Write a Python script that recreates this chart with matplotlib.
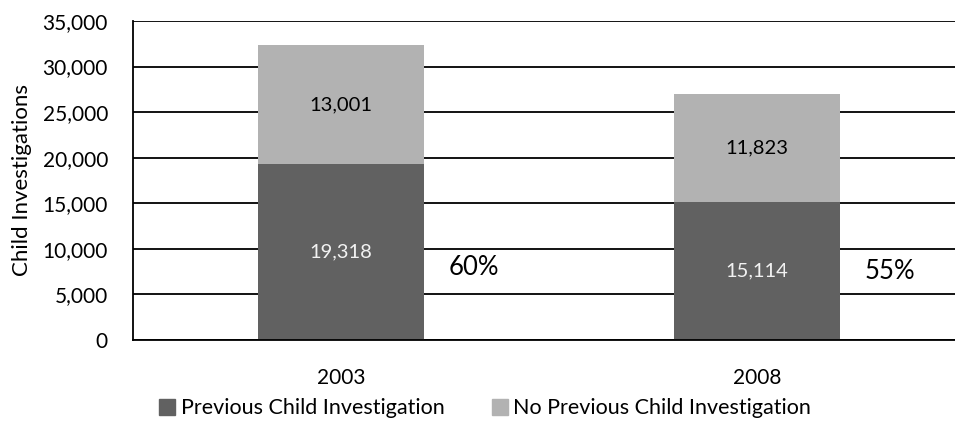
import matplotlib
matplotlib.use("Agg")
from matplotlib import pyplot as plt
from matplotlib.patches import Patch

years = ["2003", "2008"]
previous = [19318, 15114]
no_previous = [13001, 11823]
share_labels = ["60%", "55%"]
series_names = ["Previous Child Investigation", "No Previous Child Investigation"]

dark = "#616161"
light = "#b2b2b2"

plt.rcParams["font.family"] = ["Lato", "DejaVu Sans"]

fig = plt.figure(figsize=(9.55, 4.38), dpi=100)
ax = fig.add_axes([133 / 955, 1 - 340 / 438, 1 - 133 / 955, (340 - 21) / 438])

x = list(range(len(years)))
width = 0.4
ax.bar(x, previous, width=width, color=dark, zorder=2)
ax.bar(x, no_previous, width=width, bottom=previous, color=light, zorder=2)

# percentage labels sit just right of each bar, a bit below the 10,000 line
share_y = [7900, 7500]
for i in x:
    ax.text(i, previous[i] / 2, f"{previous[i]:,}", ha="center", va="center",
            color="#f2f2f2", fontsize=14.5)
    ax.text(i, previous[i] + no_previous[i] / 2, f"{no_previous[i]:,}",
            ha="center", va="center", color="black", fontsize=14.5)
    ax.text(i + width / 2 + 0.058, share_y[i], share_labels[i],
            ha="left", va="center", color="black", fontsize=18.5)

ax.set_ylim(0, 35000)
ax.set_xlim(-0.5, 1.476)
ax.set_yticks(range(0, 35001, 5000))
ax.set_yticklabels([f"{v:,}" for v in range(0, 35001, 5000)], fontsize=15)
ax.set_xticks(x)
ax.set_xticklabels(years, fontsize=15)
ax.tick_params(axis="y", length=0, pad=18)
ax.tick_params(axis="x", length=0, pad=20)
ax.yaxis.grid(True, color="black", linewidth=1.3, zorder=0)
ax.set_axisbelow(True)

for side in ["top", "right"]:
    ax.spines[side].set_visible(False)
ax.spines["left"].set_linewidth(1.3)
ax.spines["bottom"].set_linewidth(1.3)

ax.set_ylabel("Child Investigations", fontsize=16)
ax.yaxis.set_label_coords(-0.1227, 0.5)

handles = [Patch(color=dark), Patch(color=light)]
fig.legend(handles, series_names, loc="center", bbox_to_anchor=(0.508, 0.068),
           ncol=2, frameon=False, fontsize=15.5, handlelength=0.75, handleheight=0.75,
           handletextpad=0.25, columnspacing=2.2)

fig.savefig("out.png", dpi=100)
